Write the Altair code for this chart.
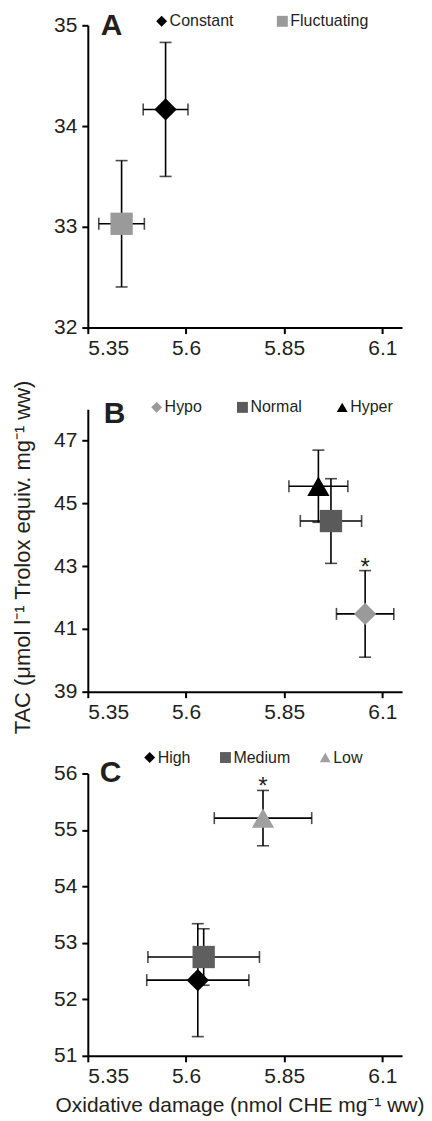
import altair as alt
import pandas as pd

# ---------------- data ----------------
groups_a = ["Constant", "Fluctuating"]
x_a = [5.548, 5.436]
xerr_a = [0.057, 0.058]
y_a = [34.165, 33.03]
yerr_a = [0.665, 0.627]
colors_a = ["#000000", "#9a9a9a"]
shapes_a = ["diamond", "square"]

groups_b = ["Hypo", "Normal", "Hyper"]
x_b = [6.056, 5.969, 5.937]
xerr_b = [0.073, 0.078, 0.075]
y_b = [41.48, 44.44, 45.55]
yerr_b = [1.38, 1.35, 1.15]
colors_b = ["#9a9a9a", "#5a5a5a", "#000000"]
shapes_b = ["diamond", "square", "triangle-up"]
star_b = ["Hypo"]

groups_c = ["High", "Medium", "Low"]
x_c = [5.630, 5.645, 5.796]
xerr_c = [0.130, 0.142, 0.124]
y_c = [52.34, 52.75, 55.21]
yerr_c = [1.00, 0.50, 0.49]
colors_c = ["#000000", "#5f5f5f", "#a0a0a0"]
shapes_c = ["diamond", "square", "triangle-up"]
star_c = ["Low"]

x_ticks = [5.35, 5.6, 5.85, 6.1]
x_domain = [5.35, 6.15]

FONT = "Liberation Sans"
TXT = "#231f20"


def make_df(groups, x, xerr, y, yerr):
    return pd.DataFrame({
        "group": groups,
        "x": x,
        "y": y,
        "xlo": [a - b for a, b in zip(x, xerr)],
        "xhi": [a + b for a, b in zip(x, xerr)],
        "ylo": [a - b for a, b in zip(y, yerr)],
        "yhi": [a + b for a, b in zip(y, yerr)],
    })


def panel(df, groups, colors, shapes, ydom, yticks, height, letter, lx, ly,
          legx, legy, colpad, stars=None, ytitle="", xtitle=""):
    xscale = alt.Scale(domain=x_domain, nice=False, zero=False)
    yscale = alt.Scale(domain=ydom, nice=False, zero=False)
    xaxis = alt.Axis(values=x_ticks, format=".2~f", title=xtitle, titlePadding=8,
                     titleX=152)
    yaxis_kw = dict(values=yticks, format="d", title=ytitle, titlePadding=19)
    if ytitle:
        yaxis_kw["titleY"] = 148
    yaxis = alt.Axis(**yaxis_kw)

    base = alt.Chart(df)
    hbar = base.mark_errorbar(ticks=True, size=12, thickness=1.6, color="black").encode(
        x=alt.X("xlo:Q", scale=xscale, axis=xaxis, title=xtitle),
        x2="xhi:Q",
        y=alt.Y("y:Q", scale=yscale, axis=yaxis, title=ytitle),
    )
    vbar = base.mark_errorbar(ticks=True, size=12, thickness=1.6, color="black").encode(
        x=alt.X("x:Q", scale=xscale, axis=xaxis, title=xtitle),
        y=alt.Y("ylo:Q", scale=yscale, axis=yaxis, title=ytitle),
        y2="yhi:Q",
    )
    leg = alt.Legend(orient="none", legendX=legx, legendY=legy, direction="horizontal",
                     title=None, columnPadding=colpad, labelFontSize=16, labelFont=FONT,
                     labelColor=TXT, symbolSize=120, symbolStrokeWidth=0, labelOffset=0,
                     padding=0)
    pts = base.mark_point(filled=True, size=500, opacity=1, strokeWidth=0).encode(
        x=alt.X("x:Q", scale=xscale, axis=xaxis, title=xtitle),
        y=alt.Y("y:Q", scale=yscale, axis=yaxis, title=ytitle),
        color=alt.Color("group:N", scale=alt.Scale(domain=groups, range=colors),
                        legend=leg, sort=groups),
        shape=alt.Shape("group:N", scale=alt.Scale(domain=groups, range=shapes),
                        legend=leg, sort=groups),
    )
    tag = alt.Chart(pd.DataFrame({"label": [letter]})).mark_text(
        fontSize=30, fontWeight="bold", font=FONT, color=TXT, align="left",
        baseline="alphabetic"
    ).encode(text="label:N", x=alt.value(lx), y=alt.value(ly))
    layers = [hbar, vbar, pts]
    if stars:
        star = base.transform_filter(
            alt.FieldOneOfPredicate(field="group", oneOf=stars)
        ).mark_text(text="*", fontSize=24, font=FONT, color=TXT, baseline="alphabetic",
                    dy=4).encode(
            x=alt.X("x:Q", scale=xscale, axis=xaxis, title=xtitle),
            y=alt.Y("yhi:Q", scale=yscale, axis=yaxis, title=ytitle),
        )
        layers.append(star)
    layers.append(tag)
    return alt.layer(*layers).properties(
        width=315, height=height,
    ).resolve_scale(color="independent", shape="independent")


A = panel(make_df(groups_a, x_a, xerr_a, y_a, yerr_a), groups_a, colors_a, shapes_a,
          [32, 35], [32, 33, 34, 35], 303, "A", 13, 10, 66, -12, 40)
B = panel(make_df(groups_b, x_b, xerr_b, y_b, yerr_b), groups_b, colors_b, shapes_b,
          [39, 48], [39, 41, 43, 45, 47], 283, "B", 16, 14, 61, -10, 32, stars=star_b,
          ytitle="TAC (\u03bcmol l\u207b\u00b9 Trolox equiv. mg\u207b\u00b9 ww)")
C = panel(make_df(groups_c, x_c, xerr_c, y_c, yerr_c), groups_c, colors_c, shapes_c,
          [51, 56], [51, 52, 53, 54, 55, 56], 283, "C", 12, 9, 54, -24, 27, stars=star_c,
          xtitle="Oxidative damage (nmol CHE mg\u207b\u00b9 ww)")

chart = alt.vconcat(A, B, C, spacing=82, bounds="flush").resolve_scale(
    color="independent", shape="independent", x="independent", y="independent"
).properties(
    padding={"left": 3, "top": 2, "right": 0, "bottom": 0}
).configure_view(stroke=None).configure_axis(
    grid=False, domainColor="black", domainWidth=2, tickColor="black", tickWidth=2,
    tickSize=6, labelFont=FONT, labelFontSize=21, labelColor=TXT, labelPadding=4,
    titleFont=FONT, titleFontSize=22, titleFontWeight="normal", titleColor=TXT,
).configure_axisY(labelPadding=5).configure_axisX(titleFontSize=21)

chart.save("out.html", embed_options={"renderer": "svg", "actions": False})
